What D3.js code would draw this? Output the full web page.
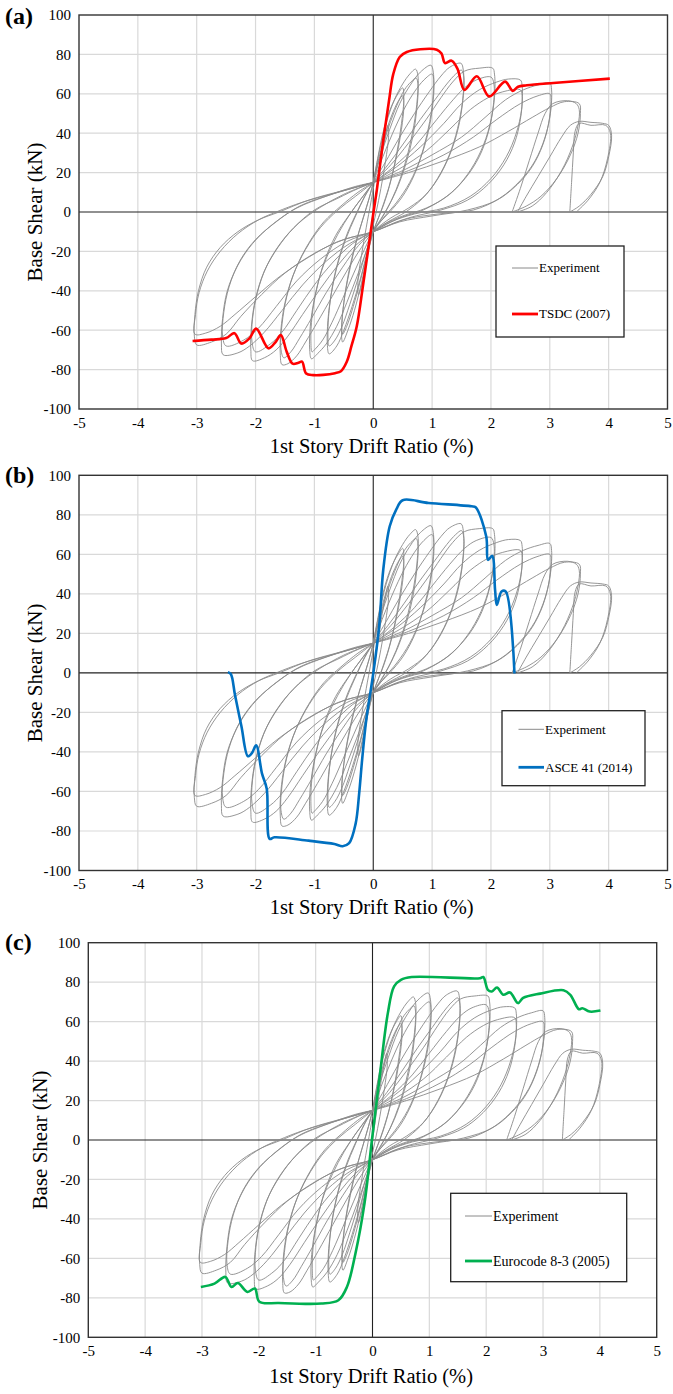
<!DOCTYPE html>
<html>
<head>
<meta charset="utf-8">
<script src="https://cdn.jsdelivr.net/npm/d3@7"></script>
<style>
  body { margin: 0; background: #fff; }
  svg { display: block; }
  text { font-family: "Liberation Serif", "Times New Roman", serif; fill: #000; }
</style>
</head>
<body>
<div id="chart"></div>
<script>
// ---- data ----
const xTicks = [-5, -4, -3, -2, -1, 0, 1, 2, 3, 4, 5];
const yTicks = [-100, -80, -60, -40, -20, 0, 20, 40, 60, 80, 100];

// experimental hysteresis, one array per cycle: [drift %, base shear kN]
const expCycle1 = [[-0.02,-4],[0.05,10],[0.12,24],[0.19,36],[0.25,44],[0.26,38],[0.21,26],[0.13,12],[0.05,0],[-0.04,-12],[-0.11,-24],[-0.18,-35],[-0.25,-42],[-0.26,-35],[-0.2,-22],[-0.12,-8],[-0.04,5],[0.02,15]];
const expCycle2 = [[0,15],[0.08,28],[0.18,42],[0.3,53],[0.42,60],[0.5,63],[0.52,58],[0.48,45],[0.4,30],[0.3,16],[0.18,4],[0.06,-5],[0,-10],[-0.1,-22],[-0.2,-36],[-0.32,-50],[-0.43,-60],[-0.52,-66],[-0.54,-60],[-0.5,-46],[-0.42,-31],[-0.3,-16],[-0.17,-3],[-0.07,7],[0,15]];
const expCycle2b = [[0,15],[0.1,28],[0.22,41],[0.34,51],[0.44,57],[0.5,59],[0.52,54],[0.47,40],[0.38,26],[0.27,13],[0.15,2],[0.05,-6],[0,-10],[-0.1,-21],[-0.22,-35],[-0.34,-48],[-0.45,-58],[-0.52,-62],[-0.53,-56],[-0.48,-42],[-0.39,-28],[-0.27,-13],[-0.14,0],[-0.05,9],[0,15]];
const expCycle3 = [[0,15],[0.1,30],[0.22,45],[0.36,57],[0.5,65],[0.62,70],[0.72,72.5],[0.76,69],[0.75,58],[0.69,44],[0.59,30],[0.46,17],[0.31,6],[0.15,-3],[0,-10],[-0.1,-20],[-0.22,-34],[-0.36,-48],[-0.5,-60],[-0.62,-68],[-0.75,-72],[-0.78,-67],[-0.77,-55],[-0.71,-41],[-0.61,-27],[-0.47,-14],[-0.3,-2],[-0.14,8],[0,15]];
const expCycle3b = [[0,15],[0.12,29],[0.26,43],[0.4,54],[0.53,62],[0.64,66],[0.73,68],[0.76,64],[0.74,52],[0.67,38],[0.56,25],[0.42,13],[0.26,3],[0.12,-4],[0,-10],[-0.12,-20],[-0.25,-33],[-0.4,-47],[-0.53,-58],[-0.65,-65],[-0.75,-68],[-0.77,-62],[-0.75,-50],[-0.69,-37],[-0.58,-23],[-0.43,-10],[-0.26,1],[-0.11,10],[0,15]];
const expCycle4 = [[0,15],[0.12,28],[0.28,42],[0.45,55],[0.62,64],[0.8,71],[0.98,74.5],[1.02,71],[1.02,60],[0.96,46],[0.85,32],[0.7,19],[0.5,8],[0.28,0],[0.12,-5],[0,-10],[-0.12,-20],[-0.28,-33],[-0.45,-46],[-0.62,-58],[-0.8,-67],[-0.95,-72],[-1.05,-74.5],[-1.08,-70],[-1.07,-58],[-1.0,-44],[-0.88,-30],[-0.7,-17],[-0.5,-6],[-0.3,3],[-0.12,10],[0,15]];
const expCycle4b = [[0,15],[0.15,27],[0.33,40],[0.52,52],[0.7,61],[0.86,67],[1.0,70],[1.03,66],[1.01,54],[0.93,40],[0.8,27],[0.62,15],[0.4,5],[0.2,-2],[0,-10],[-0.15,-19],[-0.33,-31],[-0.52,-44],[-0.7,-56],[-0.86,-65],[-1.0,-70],[-1.04,-71],[-1.06,-65],[-1.04,-53],[-0.96,-39],[-0.83,-25],[-0.64,-12],[-0.42,-2],[-0.2,7],[0,15]];
const expCycle5 = [[0,15],[0.2,25],[0.45,38],[0.7,50],[0.95,61],[1.15,69],[1.3,73.5],[1.49,75.5],[1.53,72],[1.53,60],[1.46,46],[1.33,32],[1.15,20],[0.9,9],[0.6,2],[0.3,-3],[0,-10],[-0.2,-18],[-0.45,-30],[-0.7,-43],[-0.95,-56],[-1.15,-66],[-1.3,-73],[-1.45,-77],[-1.55,-77.5],[-1.58,-72],[-1.57,-60],[-1.5,-46],[-1.36,-32],[-1.15,-19],[-0.9,-8],[-0.6,1],[-0.3,8],[0,15]];
const expCycle5b = [[0,15],[0.25,24],[0.52,35],[0.8,47],[1.05,57],[1.25,65],[1.4,70],[1.5,72],[1.54,68],[1.52,56],[1.44,42],[1.3,29],[1.1,17],[0.84,7],[0.55,0],[0.25,-5],[0,-10],[-0.25,-17],[-0.52,-28],[-0.8,-41],[-1.05,-54],[-1.25,-64],[-1.4,-71],[-1.52,-74],[-1.57,-69],[-1.55,-57],[-1.47,-43],[-1.32,-29],[-1.1,-16],[-0.84,-5],[-0.55,3],[-0.26,10],[0,15]];
const expCycle6 = [[0,15],[0.3,24],[0.6,35],[0.9,47],[1.15,58],[1.35,66],[1.55,71.5],[1.8,73],[2.03,73],[2.06,70],[2.06,58],[1.98,44],[1.83,31],[1.6,19],[1.3,9],[0.9,2],[0.5,-2],[0.2,-6],[0,-10],[-0.3,-17],[-0.6,-27],[-0.9,-39],[-1.2,-52],[-1.45,-63],[-1.65,-70],[-1.85,-74],[-2.05,-75.5],[-2.08,-70],[-2.07,-58],[-2.0,-44],[-1.85,-30],[-1.62,-18],[-1.35,-8],[-1.0,1],[-0.6,7],[-0.25,12],[0,15]];
const expCycle6b = [[0,15],[0.35,23],[0.7,33],[1.0,44],[1.3,55],[1.55,63],[1.75,67],[2.0,68.5],[2.05,65],[2.04,54],[1.96,41],[1.8,28],[1.56,17],[1.25,8],[0.85,1],[0.45,-3],[0,-10],[-0.35,-16],[-0.7,-26],[-1.0,-37],[-1.3,-50],[-1.55,-61],[-1.75,-67],[-2.0,-71],[-2.06,-66],[-2.05,-54],[-1.97,-41],[-1.82,-28],[-1.58,-16],[-1.28,-6],[-0.92,2],[-0.5,9],[0,15]];
const expCycle7 = [[0,15],[0.4,23],[0.8,33],[1.2,45],[1.5,55],[1.8,62],[2.1,66],[2.3,67.5],[2.5,67],[2.53,64],[2.52,52],[2.43,40],[2.26,28],[2.0,17],[1.65,8],[1.2,2],[0.7,-1],[0.3,-5],[0,-10],[-0.4,-16],[-0.8,-25],[-1.2,-37],[-1.55,-50],[-1.85,-61],[-2.1,-68],[-2.3,-71.5],[-2.55,-72.5],[-2.58,-67],[-2.56,-54],[-2.48,-40],[-2.3,-27],[-2.05,-16],[-1.7,-6],[-1.3,2],[-0.8,8],[-0.3,13],[0,15]];
const expCycle7b = [[0,15],[0.45,22],[0.9,31],[1.3,42],[1.65,52],[1.95,58],[2.2,61],[2.5,62],[2.53,58],[2.5,47],[2.4,35],[2.22,24],[1.95,14],[1.6,6],[1.15,1],[0.6,-3],[0,-10],[-0.45,-15],[-0.9,-24],[-1.3,-35],[-1.65,-48],[-1.95,-59],[-2.2,-65],[-2.5,-68],[-2.56,-63],[-2.54,-51],[-2.45,-38],[-2.27,-25],[-2.0,-14],[-1.65,-5],[-1.25,3],[-0.7,9],[0,15]];
const expCycle8 = [[0,15],[0.5,21],[1.0,29],[1.5,38],[1.9,48],[2.25,57],[2.55,62],[2.8,64.5],[3.0,65.5],[3.03,62],[3.01,50],[2.92,38],[2.75,26],[2.5,16],[2.15,7],[1.7,1],[1.1,-1],[0.5,-4],[0,-10],[-0.5,-14],[-1.0,-21],[-1.5,-31],[-1.9,-42],[-2.25,-53],[-2.5,-62],[-2.75,-66],[-3.0,-67.5],[-3.04,-63],[-3.03,-52],[-2.97,-40],[-2.83,-28],[-2.6,-18],[-2.3,-10],[-1.95,-4],[-1.6,0],[-1.1,6],[-0.5,11],[0,15]];
const expCycle8b = [[0,15],[0.6,21],[1.2,29],[1.7,38],[2.1,47],[2.5,55],[2.8,59],[3.0,60],[3.02,56],[2.98,45],[2.88,34],[2.7,23],[2.45,14],[2.1,6],[1.6,1],[1.0,-2],[0.45,-5],[0,-10],[-0.6,-15],[-1.1,-23],[-1.6,-33],[-2.0,-43],[-2.35,-52],[-2.6,-58],[-2.85,-61.5],[-3.03,-62],[-3.02,-52],[-2.96,-41],[-2.82,-30],[-2.6,-20],[-2.3,-11],[-1.95,-4],[-1.65,0],[-1.2,5],[-0.6,10],[0,15]];
const expCycle9 = [[0,15],[0.6,20],[1.2,26],[1.8,33],[2.3,41],[2.7,48],[3.0,53],[3.25,56],[3.5,55],[3.52,50],[3.48,40],[3.35,29],[3.12,17],[2.85,8],[2.6,3],[2.36,0]];
const expCycle9b = [[2.36,0],[2.5,12],[2.65,26],[2.8,40],[2.92,50],[3.05,55],[3.3,56.5],[3.45,55],[3.5,52],[3.48,44],[3.38,33],[3.2,21],[2.95,10],[2.7,3],[2.45,0]];
const expCycle10 = [[2.45,0],[2.6,8],[2.8,18],[3.0,28],[3.2,38],[3.35,44],[3.5,46],[3.7,45.5],[3.9,45],[4.0,44],[4.05,39],[4.0,28],[3.9,18],[3.7,9],[3.5,3],[3.34,0]];
const expCycle10b = [[3.34,0],[3.37,15],[3.4,30],[3.43,41],[3.5,45],[3.7,44],[3.95,44],[4.03,40],[3.98,27],[3.85,15],[3.65,6],[3.45,0]];

const experimentCycles = [expCycle1, expCycle2, expCycle2b, expCycle3, expCycle3b, expCycle4, expCycle4b,
  expCycle5, expCycle5b, expCycle6, expCycle6b, expCycle7, expCycle7b, expCycle8, expCycle8b,
  expCycle9, expCycle9b, expCycle10, expCycle10b];

// analytical envelopes
const tsdc = [[-3.07,-65.5],[-2.75,-64.8],[-2.5,-64],[-2.36,-61.5],[-2.24,-66.8],[-2.1,-64],[-1.99,-59.2],[-1.78,-69.2],[-1.66,-66],[-1.57,-62.5],[-1.47,-71],[-1.37,-77],[-1.27,-76.5],[-1.21,-76],[-1.14,-82],[-1.02,-82.8],[-0.85,-82.7],[-0.65,-81.8],[-0.55,-80.8],[-0.45,-76],[-0.37,-68],[-0.28,-58],[-0.17,-36.4],[0,-1],[0.06,11],[0.17,36.4],[0.27,57],[0.34,70],[0.45,78.7],[0.57,81.2],[0.8,82.6],[1.08,82.4],[1.16,80.4],[1.22,75.6],[1.33,76.8],[1.43,72.8],[1.55,62],[1.76,68.9],[1.97,58.7],[2.24,66.2],[2.37,61.5],[2.46,63.6],[2.61,64.3],[3.06,65.5],[4.02,67.7]];
const asce41 = [[-2.47,0.4],[-2.42,-0.6],[-2.35,-11],[-2.24,-27],[-2.13,-42.2],[-2.06,-40.5],[-1.99,-36.6],[-1.89,-51],[-1.81,-58.6],[-1.76,-84],[-1.68,-83.2],[-1.1,-84.9],[-0.66,-86.6],[-0.52,-87.7],[-0.41,-86.2],[-0.3,-76.4],[-0.24,-61.2],[-0.19,-44.3],[-0.12,-24],[0,-0.3],[0.1,23.4],[0.17,52.2],[0.28,74.2],[0.39,82.6],[0.5,87.4],[0.94,86],[1.67,84.3],[1.74,83.8],[1.92,69],[1.95,57.2],[2.02,59.2],[2.07,42],[2.1,34.4],[2.18,41.2],[2.25,41.2],[2.4,-0.3]];
const eurocode = [[-3.02,-74.5],[-2.78,-72.8],[-2.59,-69.4],[-2.48,-74.5],[-2.37,-72.5],[-2.2,-77],[-2.07,-75.3],[-1.99,-82],[-1.65,-82.6],[-0.9,-82.9],[-0.6,-81.2],[-0.45,-74.5],[-0.3,-57.5],[-0.14,-32],[-0.01,0],[0.12,30.5],[0.27,64.3],[0.38,77.9],[0.5,81.2],[0.69,82.6],[1.89,82],[1.95,82.6],[2.03,76.1],[2.1,75.3],[2.19,77.3],[2.3,73.6],[2.42,74.8],[2.56,69.4],[2.65,72],[2.95,74.2],[3.36,75.9],[3.48,73.6],[3.63,66.3],[3.69,66.8],[3.82,65.1],[4.01,65.6]];

// ---- layout ----
const W = 673, H = 1394;
const panels = [
  { label: "(a)", name: "TSDC (2007)", data: tsdc, color: "#ff0000",
    left: 79, right: 667.5, top: 15, bottom: 409, labelY: 24,
    yTitleX: 42, xTitleY: 453, fs: 13,
    legend: { x: 496, y: 246, w: 128, h: 91, r1: 268, r2: 314, l0: 512, l1: 538 } },
  { label: "(b)", name: "ASCE 41 (2014)", data: asce41, color: "#0070c0",
    left: 79, right: 667.5, top: 475.3, bottom: 870.5, labelY: 483,
    yTitleX: 42, xTitleY: 914, fs: 13,
    legend: { x: 502, y: 710.7, w: 143, h: 75, r1: 729.3, r2: 767.3, l0: 518.5, l1: 544 } },
  { label: "(c)", name: "Eurocode 8-3 (2005)", data: eurocode, color: "#00b050",
    left: 88.3, right: 656.7, top: 942.7, bottom: 1337.3, labelY: 950,
    yTitleX: 47, xTitleY: 1383, fs: 14,
    legend: { x: 450.7, y: 1193.3, w: 176, h: 88.4, r1: 1216, r2: 1261, l0: 465, l1: 492 } }
];

const svg = d3.select("#chart").append("svg")
  .attr("width", W).attr("height", H)
  .attr("viewBox", `0 0 ${W} ${H}`);

panels.forEach((p, i) => {
  const x = d3.scaleLinear().domain([-5, 5]).range([p.left, p.right]);
  const y = d3.scaleLinear().domain([-100, 100]).range([p.bottom, p.top]);
  const g = svg.append("g");

  const clipId = "clip-" + i;
  g.append("clipPath").attr("id", clipId)
    .append("rect")
    .attr("x", p.left).attr("y", p.top)
    .attr("width", p.right - p.left).attr("height", p.bottom - p.top);

  // grid
  g.append("g").selectAll("line").data(xTicks.filter(d => d !== 0 && Math.abs(d) !== 5))
    .join("line")
    .attr("x1", d => x(d)).attr("x2", d => x(d))
    .attr("y1", p.top).attr("y2", p.bottom)
    .attr("stroke", "#d9d9d9").attr("stroke-width", 1.2);
  g.append("g").selectAll("line").data(yTicks.filter(d => d !== 0 && Math.abs(d) !== 100))
    .join("line")
    .attr("x1", p.left).attr("x2", p.right)
    .attr("y1", d => y(d)).attr("y2", d => y(d))
    .attr("stroke", "#d9d9d9").attr("stroke-width", 1.2);

  // zero lines
  g.append("line")
    .attr("x1", x(0)).attr("x2", x(0)).attr("y1", p.top).attr("y2", p.bottom)
    .attr("stroke", "#222").attr("stroke-width", 1.1);
  g.append("line")
    .attr("x1", p.left).attr("x2", p.right).attr("y1", y(0)).attr("y2", y(0))
    .attr("stroke", "#222").attr("stroke-width", 1.1);

  const line = d3.line()
    .x(d => x(d[0])).y(d => y(d[1]))
    .curve(d3.curveCatmullRom.alpha(0.5));

  const plot = g.append("g").attr("clip-path", `url(#${clipId})`);
  plot.selectAll("path.exp").data(experimentCycles)
    .join("path")
    .attr("class", "exp")
    .attr("d", line)
    .attr("fill", "none")
    .attr("stroke", "#8a8a8a")
    .attr("stroke-width", 0.9);

  plot.append("path")
    .datum(p.data)
    .attr("d", line)
    .attr("fill", "none")
    .attr("stroke", p.color)
    .attr("stroke-width", 2.6)
    .attr("stroke-linejoin", "round");

  // frame
  g.append("rect")
    .attr("x", p.left).attr("y", p.top)
    .attr("width", p.right - p.left).attr("height", p.bottom - p.top)
    .attr("fill", "none").attr("stroke", "#333").attr("stroke-width", 1.4);

  // tick labels
  const xAxis = d3.axisBottom(x).tickValues(xTicks).tickSize(0).tickPadding(8).tickFormat(d => String(d));
  const gx = g.append("g").attr("transform", `translate(0,${p.bottom})`).call(xAxis);
  gx.attr("font-family", null);
  gx.select(".domain").remove();
  gx.selectAll("text").attr("font-size", 15).attr("fill", "#000");

  const yAxis = d3.axisLeft(y).tickValues(yTicks).tickSize(0).tickPadding(8).tickFormat(d => String(d));
  const gy = g.append("g").attr("transform", `translate(${p.left},0)`).call(yAxis);
  gy.attr("font-family", null);
  gy.select(".domain").remove();
  gy.selectAll("text").attr("font-size", 15).attr("fill", "#000");

  // titles
  g.append("text")
    .attr("x", (p.left + p.right) / 2 - 0.5 * (x(0.05) - x(0)))
    .attr("y", p.xTitleY)
    .attr("text-anchor", "middle")
    .attr("font-size", 20.5)
    .text("1st Story Drift Ratio (%)");

  g.append("text")
    .attr("transform", `translate(${p.yTitleX},${(p.top + p.bottom) / 2}) rotate(-90)`)
    .attr("text-anchor", "middle")
    .attr("font-size", 21)
    .text("Base Shear (kN)");

  g.append("text")
    .attr("x", 5).attr("y", p.labelY)
    .attr("font-size", 24).attr("font-weight", "bold")
    .text(p.label);

  // legend
  const L = p.legend;
  g.append("rect")
    .attr("x", L.x).attr("y", L.y).attr("width", L.w).attr("height", L.h)
    .attr("fill", "#fff").attr("stroke", "#222").attr("stroke-width", 1.3);
  g.append("line")
    .attr("x1", L.l0).attr("x2", L.l1).attr("y1", L.r1).attr("y2", L.r1)
    .attr("stroke", "#8a8a8a").attr("stroke-width", 1);
  g.append("line")
    .attr("x1", L.l0).attr("x2", L.l1).attr("y1", L.r2).attr("y2", L.r2)
    .attr("stroke", p.color).attr("stroke-width", 2.8);
  g.append("text")
    .attr("x", L.l1 + 1).attr("y", L.r1).attr("dy", "0.33em")
    .attr("font-size", p.fs).text("Experiment");
  g.append("text")
    .attr("x", L.l1 + 1).attr("y", L.r2).attr("dy", "0.33em")
    .attr("font-size", p.fs).text(p.name);
});
</script>
</body>
</html>
